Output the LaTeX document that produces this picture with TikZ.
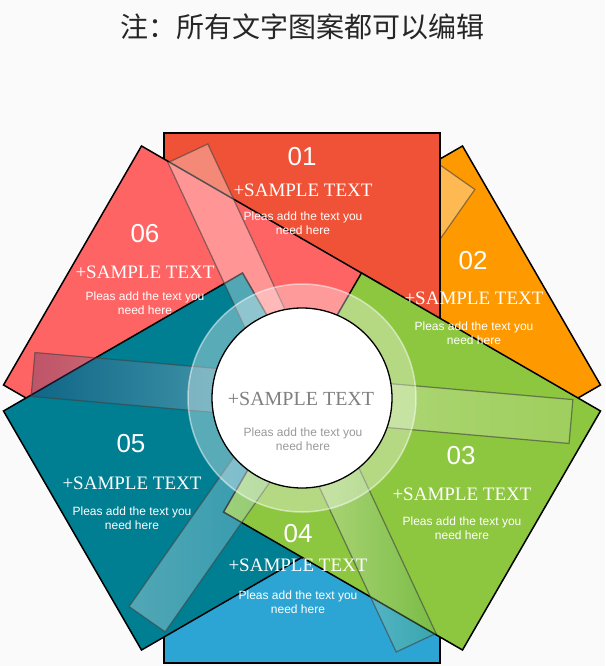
\documentclass[tikz,border=0pt]{standalone}
\usepackage{fontspec}
\setmainfont{Liberation Serif}
\newfontfamily\sansf{Liberation Sans}
\newfontfamily\cjk{Noto Sans CJK SC}
\definecolor{cA}{HTML}{EF5237}
\definecolor{cB}{HTML}{FF9900}
\definecolor{cC}{HTML}{8DC63F}
\definecolor{cD}{HTML}{2CA5D4}
\definecolor{cE}{HTML}{007E92}
\definecolor{cF}{HTML}{FF6464}
\definecolor{bg}{HTML}{FAFAFA}
\begin{document}
\begin{tikzpicture}[x=1pt,y=-1pt,
  sq/.style={draw=black,line width=1.5pt},
  bar/.style={draw=black!75,draw opacity=0.6,line width=1.2pt,fill opacity=0.32},
  num/.style={text=white,font=\sansf\fontsize{26}{26}\selectfont},
  head/.style={text=white,font=\fontsize{19}{19}\selectfont},
  small/.style={text=white,font=\sansf\fontsize{12}{14}\selectfont,align=center}]
\fill[bg] (0,0) rectangle (605,666);
\useasboundingbox (0,0) rectangle (605,666);
\node[font=\cjk\fontsize{28}{28}\selectfont,text=black!85] (title) at (302,27) {注：所有文字图案都可以编辑};
\coordinate (C) at (302,398);
% squares
\begin{scope}[shift={(C)}]
\fill[cB,sq,rotate=-60] (-138,-265) rectangle (138,11);
\fill[cD,sq,rotate=-180] (-138,-265) rectangle (138,11);
\begin{scope}[rotate=-125]
\shade[bar,left color=white,right color=white] (-270,-22) rectangle (0,22);
\end{scope}
\fill[cA,sq] (-138,-265) rectangle (138,11);
\fill[cF,sq,rotate=-300] (-138,-265) rectangle (138,11);
\fill[cE,sq,rotate=-240] (-138,-265) rectangle (138,11);
\fill[cC,sq,rotate=-120] (-138,-265) rectangle (138,11);
\begin{scope}[rotate=-125]
\shade[bar,left color=white,right color=cD!60!white] (0,-22) rectangle (270,22);
\end{scope}
\begin{scope}[rotate=-5]
\shade[bar,left color=black!60!blue!60!gray,right color=cC!50!white,middle color=white] (-270,-22) rectangle (270,22);
\end{scope}
\begin{scope}[rotate=-65]
\shade[bar,left color=white,right color=cC!60!teal,middle color=white] (-270,-22) rectangle (270,22);
\end{scope}
\end{scope}
% center
\fill[white,fill opacity=0.35,draw=white,draw opacity=0.5,line width=1.5pt] (C) circle[radius=114];
\node[circle,draw=black,line width=1.3pt,fill=white,minimum size=180pt,inner sep=0pt] (ctr) at (C) {};
\node[text=black!50,font=\fontsize{20}{20}\selectfont] (ch) at (301,399) {+SAMPLE TEXT};
\node[small,text=black!40] (cs) at (303,439) {Pleas add the text you\\need here};
% texts
\node[num] (n1) at (302,157) {01};
\node[head] (h1) at (303,190) {+SAMPLE TEXT};
\node[small] (s1) at (303,223) {Pleas add the text you\\need here};
\node[num] (n2) at (473,261) {02};
\node[head] (h2) at (474,298) {+SAMPLE TEXT};
\node[small] (s2) at (474,333) {Pleas add the text you\\need here};
\node[num] (n3) at (461,456) {03};
\node[head] (h3) at (462,494) {+SAMPLE TEXT};
\node[small] (s3) at (462,528) {Pleas add the text you\\need here};
\node[num] (n4) at (298,534) {04};
\node[head] (h4) at (298,565) {+SAMPLE TEXT};
\node[small] (s4) at (298,602) {Pleas add the text you\\need here};
\node[num] (n5) at (131,444) {05};
\node[head] (h5) at (132,483) {+SAMPLE TEXT};
\node[small] (s5) at (132,518) {Pleas add the text you\\need here};
\node[num] (n6) at (145,234) {06};
\node[head] (h6) at (145,272) {+SAMPLE TEXT};
\node[small] (s6) at (145,303) {Pleas add the text you\\need here};
\end{tikzpicture}
\end{document}
